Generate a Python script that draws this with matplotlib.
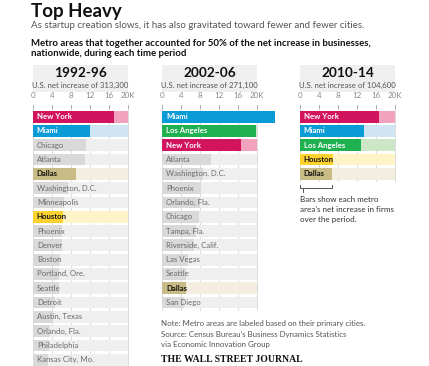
import matplotlib
matplotlib.use("Agg")
import matplotlib.pyplot as plt

W, H = 429, 366
FONT = ["Lato", "DejaVu Sans"]
plt.rcParams['font.family'] = FONT

# ---------------- data ----------------
periods = ["1992-96", "2002-06", "2010-14"]
totals = ["U.S. net increase of 313,300", "U.S. net increase of 271,100",
          "U.S. net increase of 104,600"]

cities_1 = ["New York", "Miami", "Chicago", "Atlanta", "Dallas", "Washington, D.C.",
            "Minneapolis", "Houston", "Phoenix", "Denver", "Boston", "Portland, Ore.",
            "Seattle", "Detroit", "Austin, Texas", "Orlando, Fla.", "Philadelphia",
            "Kansas City, Mo."]
values_1 = [17.1, 12.1, 11.1, 10.9, 9.1, 7.4, 6.5, 6.3, 6.2, 6.1, 5.7, 5.5, 5.4,
            4.7, 4.2, 3.6, 3.4, 3.1]

cities_2 = ["Miami", "Los Angeles", "New York", "Atlanta", "Washington, D.C.",
            "Phoenix", "Orlando, Fla.", "Chicago", "Tampa, Fla.", "Riverside, Calif.",
            "Las Vegas", "Seattle", "Dallas", "San Diego"]
values_2 = [23.9, 19.9, 16.6, 10.3, 8.6, 8.2, 8.0, 7.8, 7.1, 6.7, 5.4, 5.0, 5.0, 4.7]

cities_3 = ["New York", "Miami", "Los Angeles", "Houston", "Dallas"]
values_3 = [16.6, 13.5, 12.8, 6.9, 6.8]

tick_values = [0, 4, 8, 12, 16, 20]
tick_labels = ["0", "4", "8", "12", "16", "20K"]

# highlight colours: (bar, background, text colour)
highlight = {
    "New York": ("#d2145f", "#f2a2bd", "white"),
    "Miami": ("#0b9bd7", "#cfe5f4", "white"),
    "Los Angeles": ("#1fb14f", "#cce6c6", "white"),
    "Dallas": ("#c9bb85", "#f3eee0", "#111111"),
    "Houston": ("#fdd22f", "#fff3c8", "#111111"),
}
plain = ("#d9d9d9", "#efefef", "#6a6a6a")

# ---------------- figure ----------------
fig = plt.figure(figsize=(W / 100, H / 100), dpi=100)
fig.patch.set_facecolor("white")


def fx(px):
    return px / W


def fy(py):
    return 1 - py / H


fig.text(fx(31), fy(11), "Top Heavy", fontsize=13.5, fontweight="bold",
         color="#111111", va="center", ha="left")
fig.text(fx(31), fy(26), "As startup creation slows, it has also gravitated toward fewer and fewer cities.",
         fontsize=7.0, color="#555555", va="center", ha="left")
fig.text(fx(31), fy(43), "Metro areas that together accounted for 50% of the net increase in businesses,",
         fontsize=6.9, fontweight="bold", color="#111111", va="center", ha="left")
fig.text(fx(31), fy(53.5), "nationwide, during each time period",
         fontsize=6.9, fontweight="bold", color="#111111", va="center", ha="left")

panel_x = [(33, 127.7), (162.3, 256.7), (300, 395)]
datasets = [(cities_1, values_1), (cities_2, values_2), (cities_3, values_3)]

PITCH = 14.3
NROWS = 18
TOP = 109.5
BAR_H = 0.83

axes = []
for (x0, x1), (cities, vals), per, tot in zip(panel_x, datasets, periods, totals):
    # header box
    box = fig.add_axes([fx(x0), fy(92), fx(x1) - fx(x0), (92 - 65) / H])
    box.set_facecolor("#efefef")
    box.set_xticks([]); box.set_yticks([])
    for s in box.spines.values():
        s.set_visible(False)
    box.text(0.5, 0.70, per, transform=box.transAxes, ha="center", va="center",
             fontsize=9.8, fontweight="bold", color="#111111")
    box.text(0.5, 0.24, tot, transform=box.transAxes, ha="center", va="center",
             fontsize=5.6, color="#555555")

    bottom_px = TOP + NROWS * PITCH
    ax = fig.add_axes([fx(x0), fy(bottom_px), fx(x1) - fx(x0), NROWS * PITCH / H])
    axes.append(ax)
    ax.set_xlim(0, 20)
    ax.set_ylim(NROWS - 0.5, -0.5)
    ax.axis("off")
    # grid lines behind
    for t in tick_values:
        ax.plot([t, t], [-0.5, len(cities) - 0.5], color="#dcdcdc", lw=0.7,
                zorder=0, clip_on=False)
    for i, (c, v) in enumerate(zip(cities, vals)):
        bar_c, bg_c, txt_c = highlight.get(c, plain)
        ax.barh(i, 20, height=BAR_H, color=bg_c, zorder=1, linewidth=0)
        ax.barh(i, v, height=BAR_H, color=bar_c, zorder=2, linewidth=0,
                clip_on=False)
        bold = c in highlight
        ax.text(0.8, i, c, va="center", ha="left", fontsize=5.6,
                fontweight="bold" if bold else "normal", color=txt_c, zorder=3)
    # tick labels and marks
    for t, lab in zip(tick_values, tick_labels):
        ax.text(t, -1.45, lab, ha="center", va="center", fontsize=5.8,
                color="#8a8a8a", clip_on=False)
        ax.plot([t, t], [-0.62, -0.78], color="#9a9a9a", lw=0.6, clip_on=False)

# bracket note in panel 3
ax3 = axes[2]
bw = values_3[-1]
yb = 5.0
ax3.plot([0, 0, bw, bw], [yb - 0.22, yb, yb, yb - 0.22], color="#555555",
         lw=0.7, clip_on=False)
ax3.plot([0.6, 0.6], [yb, yb + 0.3], color="#555555", lw=0.7, clip_on=False)
for k, line in enumerate(["Bars show each metro", "area\u2019s net increase in firms",
                          "over the period."]):
    ax3.text(0, 5.8 + k * 0.7, line, ha="left", va="center", fontsize=5.8,
             color="#333333", clip_on=False)

# footer
fig.text(fx(161), fy(323.3), "Note: Metro areas are labeled based on their primary cities.",
         fontsize=5.7, color="#555555", va="center", ha="left")
fig.text(fx(161), fy(335), "Source: Census Bureau\u2019s Business Dynamics Statistics",
         fontsize=5.7, color="#555555", va="center", ha="left")
fig.text(fx(161), fy(344.5), "via Economic Innovation Group",
         fontsize=5.7, color="#555555", va="center", ha="left")
fig.text(fx(161), fy(360), "THE WALL STREET JOURNAL", fontsize=7.0, fontweight="bold",
         family=["Liberation Serif", "DejaVu Serif"], color="#111111",
         va="center", ha="left")

fig.savefig("out.png", dpi=100, facecolor="white")
